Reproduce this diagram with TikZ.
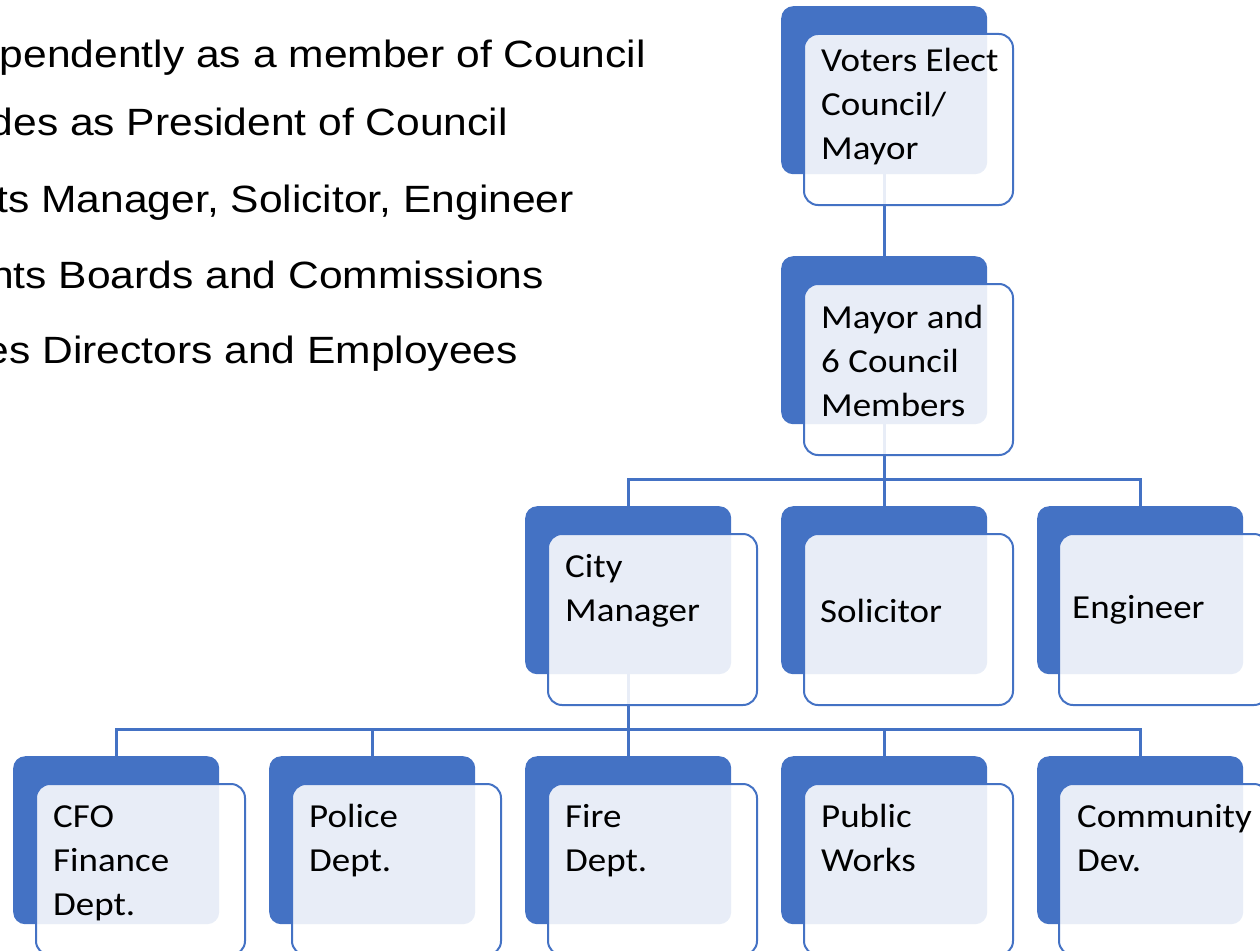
\documentclass[tikz,border=0pt]{standalone}
\usepackage{fontspec}
\usepackage{tikz}
\usetikzlibrary{positioning, calc, backgrounds}
\newfontfamily\boxfont[FakeStretch=1.1]{Carlito}
\newfontfamily\notefont[FakeStretch=1.12]{Liberation Sans}
\definecolor{smartblue}{HTML}{4472C4}

\begin{document}
\begin{tikzpicture}[
    x=1pt, y=1pt,
    back/.style={rectangle, rounded corners=12pt, fill=smartblue, minimum width=206pt, minimum height=168pt, anchor=north west, inner sep=0pt},
    front/.style={rectangle, rounded corners=14pt, draw=smartblue, line width=2pt, fill=white, fill opacity=0.88, minimum width=209pt, minimum height=171pt, anchor=north west, inner sep=0pt},
    boxtext/.style={anchor=north west, inner sep=0pt, align=left, font=\boxfont\fontsize{33.6}{44}\selectfont},
    note/.style={anchor=base east, inner sep=0pt, font=\notefont\fontsize{38}{45}\selectfont},
    link/.style={draw=smartblue, line width=2.8pt}
]
\useasboundingbox (0,0) rectangle (1260,-950);

% Notes (cut off at the left edge)
\node[note] (note1) at (646,-67) {pendently as a member of Council};
\node[note] (note2) at (508,-135) {des as President of Council};
\node[note] (note3) at (574,-212) {ts Manager, Solicitor, Engineer};
\node[note] (note4) at (544,-288) {nts Boards and Commissions};
\node[note] (note5) at (518,-363) {es Directors and Employees};

% Voters and Council
\node[back] (voters) at (781,-6) {};
\node[front] (voters-f) at ([xshift=22pt, yshift=-27pt]voters.north west) {};
\node[boxtext] (voters-t) at ([xshift=40pt, yshift=-34pt]voters.north west) {\strut Voters Elect\\Council/\\Mayor};

\node[back] (mayor) at (781,-256) {};
\node[front] (mayor-f) at ([xshift=22pt, yshift=-27pt]mayor.north west) {};
\node[boxtext] (mayor-t) at ([xshift=40pt, yshift=-41pt]mayor.north west) {\strut Mayor and\\6 Council\\Members};

% Appointed by Council
\node[back] (city) at (525,-506) {};
\node[front] (city-f) at ([xshift=22pt, yshift=-27pt]city.north west) {};
\node[boxtext] (city-t) at ([xshift=40pt, yshift=-40pt]city.north west) {\strut City\\Manager};

\node[back] (solicitor) at (781,-506) {};
\node[front] (solicitor-f) at ([xshift=22pt, yshift=-27pt]solicitor.north west) {};
\node[boxtext] (solicitor-t) at ([xshift=39pt, yshift=-85pt]solicitor.north west) {\strut Solicitor};

\node[back] (engineer) at (1037,-506) {};
\node[front] (engineer-f) at ([xshift=21pt, yshift=-27pt]engineer.north west) {};
\node[boxtext] (engineer-t) at ([xshift=35pt, yshift=-81pt]engineer.north west) {\strut Engineer};

% Departments
\node[back] (cfo) at (13,-756) {};
\node[front] (cfo-f) at ([xshift=22pt, yshift=-27pt]cfo.north west) {};
\node[boxtext] (cfo-t) at ([xshift=40pt, yshift=-40pt]cfo.north west) {\strut CFO\\Finance\\Dept.};

\node[back] (police) at (269,-756) {};
\node[front] (police-f) at ([xshift=22pt, yshift=-27pt]police.north west) {};
\node[boxtext] (police-t) at ([xshift=40pt, yshift=-40pt]police.north west) {\strut Police\\Dept.};

\node[back] (fire) at (525,-756) {};
\node[front] (fire-f) at ([xshift=22pt, yshift=-27pt]fire.north west) {};
\node[boxtext] (fire-t) at ([xshift=40pt, yshift=-40pt]fire.north west) {\strut Fire\\Dept.};

\node[back] (works) at (781,-756) {};
\node[front] (works-f) at ([xshift=22pt, yshift=-27pt]works.north west) {};
\node[boxtext] (works-t) at ([xshift=40pt, yshift=-40pt]works.north west) {\strut Public\\Works};

\node[back] (community) at (1037,-756) {};
\node[front] (community-f) at ([xshift=21pt, yshift=-27pt]community.north west) {};
\node[boxtext] (community-t) at ([xshift=40pt, yshift=-40pt]community.north west) {\strut Community\\Dev.};

% Connectors
\begin{scope}[on background layer]
\draw[link] (voters.south) -- (mayor.north);
\coordinate (split1) at ([yshift=-55pt]mayor.south);
\draw[link] (mayor.south) -- (split1);
\draw[link] (split1) -| (city.north);
\draw[link] (split1) -- (solicitor.north);
\draw[link] (split1) -| (engineer.north);
\coordinate (split2) at ([yshift=-55pt]city.south);
\draw[link] (city.south) -- (split2);
\draw[link] (split2) -| (cfo.north);
\draw[link] (split2) -| (police.north);
\draw[link] (split2) -- (fire.north);
\draw[link] (split2) -| (works.north);
\draw[link] (split2) -| (community.north);
\end{scope}
\end{tikzpicture}
\end{document}
